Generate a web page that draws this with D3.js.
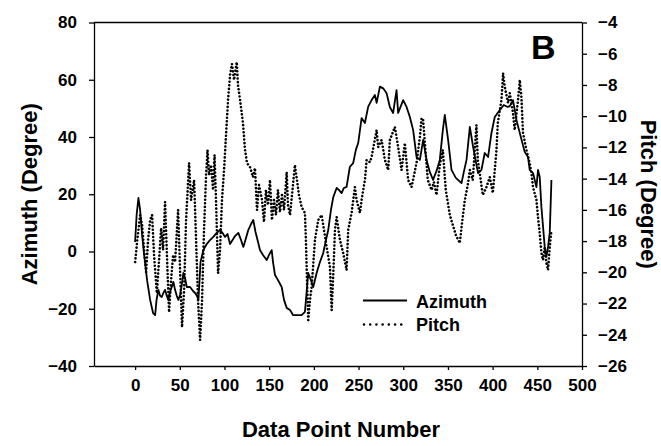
<!DOCTYPE html>
<html>
<head>
<meta charset="utf-8">
<script src="https://cdn.jsdelivr.net/npm/d3@7"></script>
<style>
  html, body { margin: 0; padding: 0; background: #fff; }
  svg { display: block; font-family: "Liberation Sans", Arial, Helvetica, sans-serif; font-weight: bold; }
</style>
</head>
<body>
<svg id="chart" width="661" height="446"></svg>
<script>
// Sample index (data point number) and azimuth angle in degrees
const azIndex = [0, 1.7, 3.7, 5.6, 7.8, 10.1, 13.4, 16.8, 20.1, 22.4, 24.0, 26.0, 27.9, 29.8, 31.6, 33.5, 35.4, 37.2, 39.1, 41.0,
  42.8, 44.7, 46.6, 48.4, 50.3, 52.2, 54.0, 55.9, 57.8, 61.5, 64.8, 67.1, 69.3, 70.8, 72.1, 73.2, 76.3, 80.1, 83.8, 87.5,
  91.3, 95.0, 97.8, 100.6, 103.4, 106.2, 109.0, 111.8, 115.5, 118.5, 121.1, 124.1, 126.6, 129.7, 132.2, 134.7, 137.8, 139.7, 143.1, 147.2,
  149.8, 152.8, 154.3, 156.5, 159.9, 164.0, 166.6, 169.6, 173.3, 176.6, 181.1, 186.3, 190.0, 193.7, 196.7, 199.3, 203.1, 206.8, 210.5, 213.5,
  216.1, 219.1, 221.7, 225.5, 228.0, 231.0, 233.6, 236.6, 240.3, 244.0, 247.0, 249.6, 253.4, 257.1, 260.8, 264.6, 268.3, 270.2, 273.9, 277.5,
  281.3, 285.0, 288.7, 292.5, 294.3, 299.9, 303.7, 307.4, 311.1, 314.9, 318.6, 322.3, 326.1, 329.7, 333.4, 337.6, 340.9, 344.3, 346.5, 350.2,
  354.0, 358.8, 365.2, 367.8, 370.8, 374.5, 378.2, 383.7, 387.5, 391.2, 394.9, 398.7, 402.4, 408.0, 412.5, 416.9, 419.2, 422.8, 426.7, 430.4,
  435.9, 439.6, 441.5, 445.2, 449.0, 450.8, 452.7, 454.6, 458.3, 460.2, 462.0, 463.9, 465.8];
const azimuth = [3.3, 12.8, 18.7, 14.5, 5.8, -1.2, -10.0, -16.9, -21.5, -22.2, -16.9, -13.4, -15.5, -15.9, -14.5, -13.4, -15.5, -16.9, -14.1, -12.4,
  -10.6, -13.4, -15.5, -16.9, -15.2, -11.7, -7.5, -9.3, -12.4, -12.4, -13.8, -14.5, -15.5, -16.9, -10.0, -3.7, 0.5, 2.6, 4.0, 5.1,
  6.5, 7.5, 6.5, 5.1, 6.1, 2.6, 4.0, 5.4, 6.5, 4.0, 1.6, 4.7, 7.5, 9.6, 11.0, 6.8, 3.0, 0.5, -1.2, -3.0,
  -1.2, 0.5, -3.7, -8.2, -10.0, -12.4, -16.9, -19.7, -20.4, -22.2, -22.2, -22.2, -21.1, -7.5, -10.0, -12.4, -7.5, -3.7, -0.5, 4.0,
  7.5, 14.5, 19.0, 22.2, 21.5, 20.4, 22.2, 22.6, 29.6, 30.9, 35.5, 37.9, 46.6, 44.9, 50.6, 52.9, 54.7, 51.9, 57.6, 57.0,
  55.4, 50.5, 48.4, 56.4, 48.4, 52.9, 50.5, 47.0, 42.4, 33.0, 32.0, 39.0, 32.0, 27.8, 25.0, 28.5, 32.0, 42.4, 47.7, 39.0,
  28.5, 25.7, 23.9, 27.8, 32.0, 43.5, 36.5, 27.4, 28.5, 34.4, 33.0, 41.4, 47.0, 49.4, 51.2, 50.5, 50.8, 52.9, 45.9, 41.4,
  34.8, 33.0, 28.5, 27.4, 22.5, 28.5, 26.0, 15.5, 1.6, -1.9, 1.6, 6.5, 25.0];

// Sample index and pitch angle in degrees
const pitchIndex = [0, 2.2, 5.6, 7.8, 10.1, 12.3, 14.5, 16.8, 19.0, 21.2, 24.3, 26.8, 29.1, 31.3, 33.5, 35.8, 38.0, 40.2, 42.5, 44.7,
  48.1, 50.3, 52.5, 54.8, 57.0, 60.4, 62.6, 66.0, 68.2, 70.4, 72.7, 74.9, 77.1, 79.4, 81.0, 82.7, 85.0, 87.2, 88.9, 90.5,
  92.8, 95.0, 97.2, 99.5, 101.7, 104.0, 106.2, 108.4, 110.7, 113.7, 115.1, 117.4, 120.7, 123.0, 125.2, 128.5, 131.9, 134.1, 136.4, 138.6,
  142.0, 144.2, 146.4, 148.7, 150.9, 153.1, 155.4, 157.6, 159.8, 162.1, 164.3, 166.6, 169.6, 171.0, 173.3, 175.5, 178.8, 181.1, 183.3, 186.3,
  190.0, 191.1, 192.3, 193.7, 195.6, 197.5, 201.2, 204.9, 208.7, 211.3, 214.3, 218.0, 219.9, 221.9, 223.6, 225.5, 229.2, 232.8, 236.6, 238.4,
  242.2, 245.9, 247.8, 251.5, 253.4, 257.1, 259.0, 262.7, 264.6, 270.2, 272.0, 275.8, 279.5, 283.2, 285.0, 290.6, 294.3, 298.1, 301.8, 305.5,
  309.3, 314.9, 318.6, 320.5, 322.3, 324.2, 327.5, 331.7, 334.3, 337.2, 340.9, 344.3, 347.6, 352.1, 355.5, 358.8, 363.3, 365.5, 368.9, 372.2,
  374.5, 377.8, 381.9, 383.4, 385.6, 389.0, 393.1, 396.8, 400.2, 404.3, 405.8, 409.9, 411.7, 413.6, 417.3, 419.2, 422.8, 424.7, 428.4, 430.4,
  432.2, 434.0, 437.8, 441.5, 443.4, 445.2, 449.0, 450.8, 452.7, 454.6, 456.4, 458.3, 460.2, 462.0, 463.9, 465.8];
const pitch = [-19.34, -18.06, -16.33, -16.97, -18.57, -19.98, -17.93, -16.65, -16.33, -18.89, -21.33, -19.21, -17.16, -18.57, -15.50, -19.21, -22.55, -20.50, -18.89, -19.34,
  -16.01, -19.85, -23.51, -21.14, -16.65, -13.00, -15.37, -14.09, -17.93, -21.78, -24.34, -21.78, -17.29, -13.77, -12.17, -13.77, -13.13, -14.73, -12.49, -15.37,
  -20.05, -18.57, -15.37, -13.45, -11.21, -8.96, -7.36, -6.66, -7.68, -6.53, -8.00, -8.96, -10.44, -12.17, -13.00, -13.26, -13.90, -13.32, -16.01, -14.41,
  -15.37, -16.78, -14.73, -15.69, -14.09, -16.65, -15.37, -16.33, -14.73, -16.14, -15.05, -16.01, -13.58, -15.69, -16.33, -15.05, -13.13, -14.09, -15.05, -15.82,
  -16.20, -17.93, -20.50, -23.06, -21.78, -20.94, -17.93, -16.65, -16.33, -17.29, -18.38, -19.66, -22.42, -19.85, -17.29, -16.46, -17.93, -18.77, -19.85, -17.29,
  -16.20, -14.54, -15.37, -16.20, -15.37, -14.09, -12.81, -12.94, -12.62, -10.89, -11.98, -11.53, -12.81, -13.45, -11.53, -10.69, -11.98, -13.45, -11.72, -14.09,
  -14.54, -13.00, -11.34, -10.12, -10.25, -11.72, -14.09, -14.73, -14.22, -15.05, -13.13, -12.17, -14.73, -16.33, -16.97, -17.61, -18.13, -16.97, -15.37, -14.41,
  -13.45, -14.09, -10.57, -12.81, -13.64, -15.05, -14.54, -13.90, -14.92, -12.17, -10.44, -8.96, -7.24, -8.13, -9.16, -8.52, -9.80, -10.89, -8.96, -7.68,
  -8.77, -11.08, -12.17, -13.00, -13.64, -14.54, -15.37, -16.46, -17.49, -18.77, -19.21, -18.38, -19.41, -19.85, -18.38, -17.29];

const xTicks = [0, 50, 100, 150, 200, 250, 300, 350, 400, 450, 500];
const azTicks = [-40, -20, 0, 20, 40, 60, 80];
const pitchTicks = [-26, -24, -22, -20, -18, -16, -14, -12, -10, -8, -6, -4];

const margin = { left: 94, right: 79, top: 22.5, bottom: 80 };
const W = 661, H = 446;
const svg = d3.select("#chart");

const x = d3.scaleLinear().domain([-46, 500]).range([margin.left, W - margin.right]);
const yAz = d3.scaleLinear().domain([-40, 80]).range([H - margin.bottom, margin.top]);
const yPitch = d3.scaleLinear().domain([-26, -4]).range([H - margin.bottom, margin.top]);

// Frame: top border
svg.append("line")
  .attr("x1", margin.left).attr("x2", W - margin.right)
  .attr("y1", margin.top).attr("y2", margin.top)
  .attr("stroke", "#000").attr("stroke-width", 1.3);

function styleAxis(g) {
  g.select(".domain").attr("stroke", "#000").attr("stroke-width", 1.3);
  g.selectAll(".tick line").attr("stroke", "#000").attr("stroke-width", 1.3);
  g.selectAll(".tick text").attr("fill", "#000").style("font-size", "17px").style("font-weight", "bold");
}

svg.append("g")
  .attr("transform", `translate(0,${H - margin.bottom})`)
  .call(d3.axisBottom(x).tickValues(xTicks).tickSizeInner(4).tickSizeOuter(0).tickPadding(9).tickFormat(d3.format("d")))
  .call(styleAxis);

svg.append("g")
  .attr("transform", `translate(${margin.left},0)`)
  .call(d3.axisLeft(yAz).tickValues(azTicks).tickSizeInner(5).tickSizeOuter(0).tickPadding(12).tickFormat(d3.format("d")))
  .call(styleAxis);

svg.append("g")
  .attr("transform", `translate(${W - margin.right},0)`)
  .call(d3.axisRight(yPitch).tickValues(pitchTicks).tickSizeInner(5).tickSizeOuter(0).tickPadding(11).tickFormat(d3.format("d")))
  .call(styleAxis);

// Axis titles
svg.append("text")
  .attr("x", (margin.left + W - margin.right) / 2 + 3).attr("y", 437)
  .attr("text-anchor", "middle").style("font-size", "22px")
  .text("Data Point Number");

svg.append("text")
  .attr("transform", `translate(37,${(margin.top + H - margin.bottom) / 2}) rotate(-90)`)
  .attr("text-anchor", "middle").style("font-size", "22px")
  .text("Azimuth (Degree)");

svg.append("text")
  .attr("transform", `translate(641,${(margin.top + H - margin.bottom) / 2}) rotate(90)`)
  .attr("text-anchor", "middle").style("font-size", "22px")
  .text("Pitch (Degree)");

// Panel letter
svg.append("text")
  .attr("x", 531).attr("y", 59)
  .style("font-size", "34px")
  .text("B");

// Series
const azData = azIndex.map((d, i) => [d, azimuth[i]]);
const pitchData = pitchIndex.map((d, i) => [d, pitch[i]]);

svg.append("path")
  .datum(azData)
  .attr("fill", "none").attr("stroke", "#000").attr("stroke-width", 1.8)
  .attr("stroke-linejoin", "round")
  .attr("d", d3.line().x(d => x(d[0])).y(d => yAz(d[1])));

svg.append("path")
  .datum(pitchData)
  .attr("fill", "none").attr("stroke", "#000").attr("stroke-width", 2.6)
  .attr("stroke-linecap", "round").attr("stroke-dasharray", "0.01 3.6")
  .attr("d", d3.line().x(d => x(d[0])).y(d => yPitch(d[1])));

// Legend
const legend = svg.append("g");
legend.append("line")
  .attr("x1", 363).attr("x2", 407).attr("y1", 300.5).attr("y2", 300.5)
  .attr("stroke", "#000").attr("stroke-width", 1.8);
legend.append("text").attr("x", 416).attr("y", 307.5).style("font-size", "18px").text("Azimuth");
legend.append("line")
  .attr("x1", 364).attr("x2", 407).attr("y1", 324.5).attr("y2", 324.5)
  .attr("stroke", "#000").attr("stroke-width", 2.6)
  .attr("stroke-linecap", "round").attr("stroke-dasharray", "0.01 6.2");
legend.append("text").attr("x", 416).attr("y", 331).style("font-size", "18px").text("Pitch");
</script>
</body>
</html>
